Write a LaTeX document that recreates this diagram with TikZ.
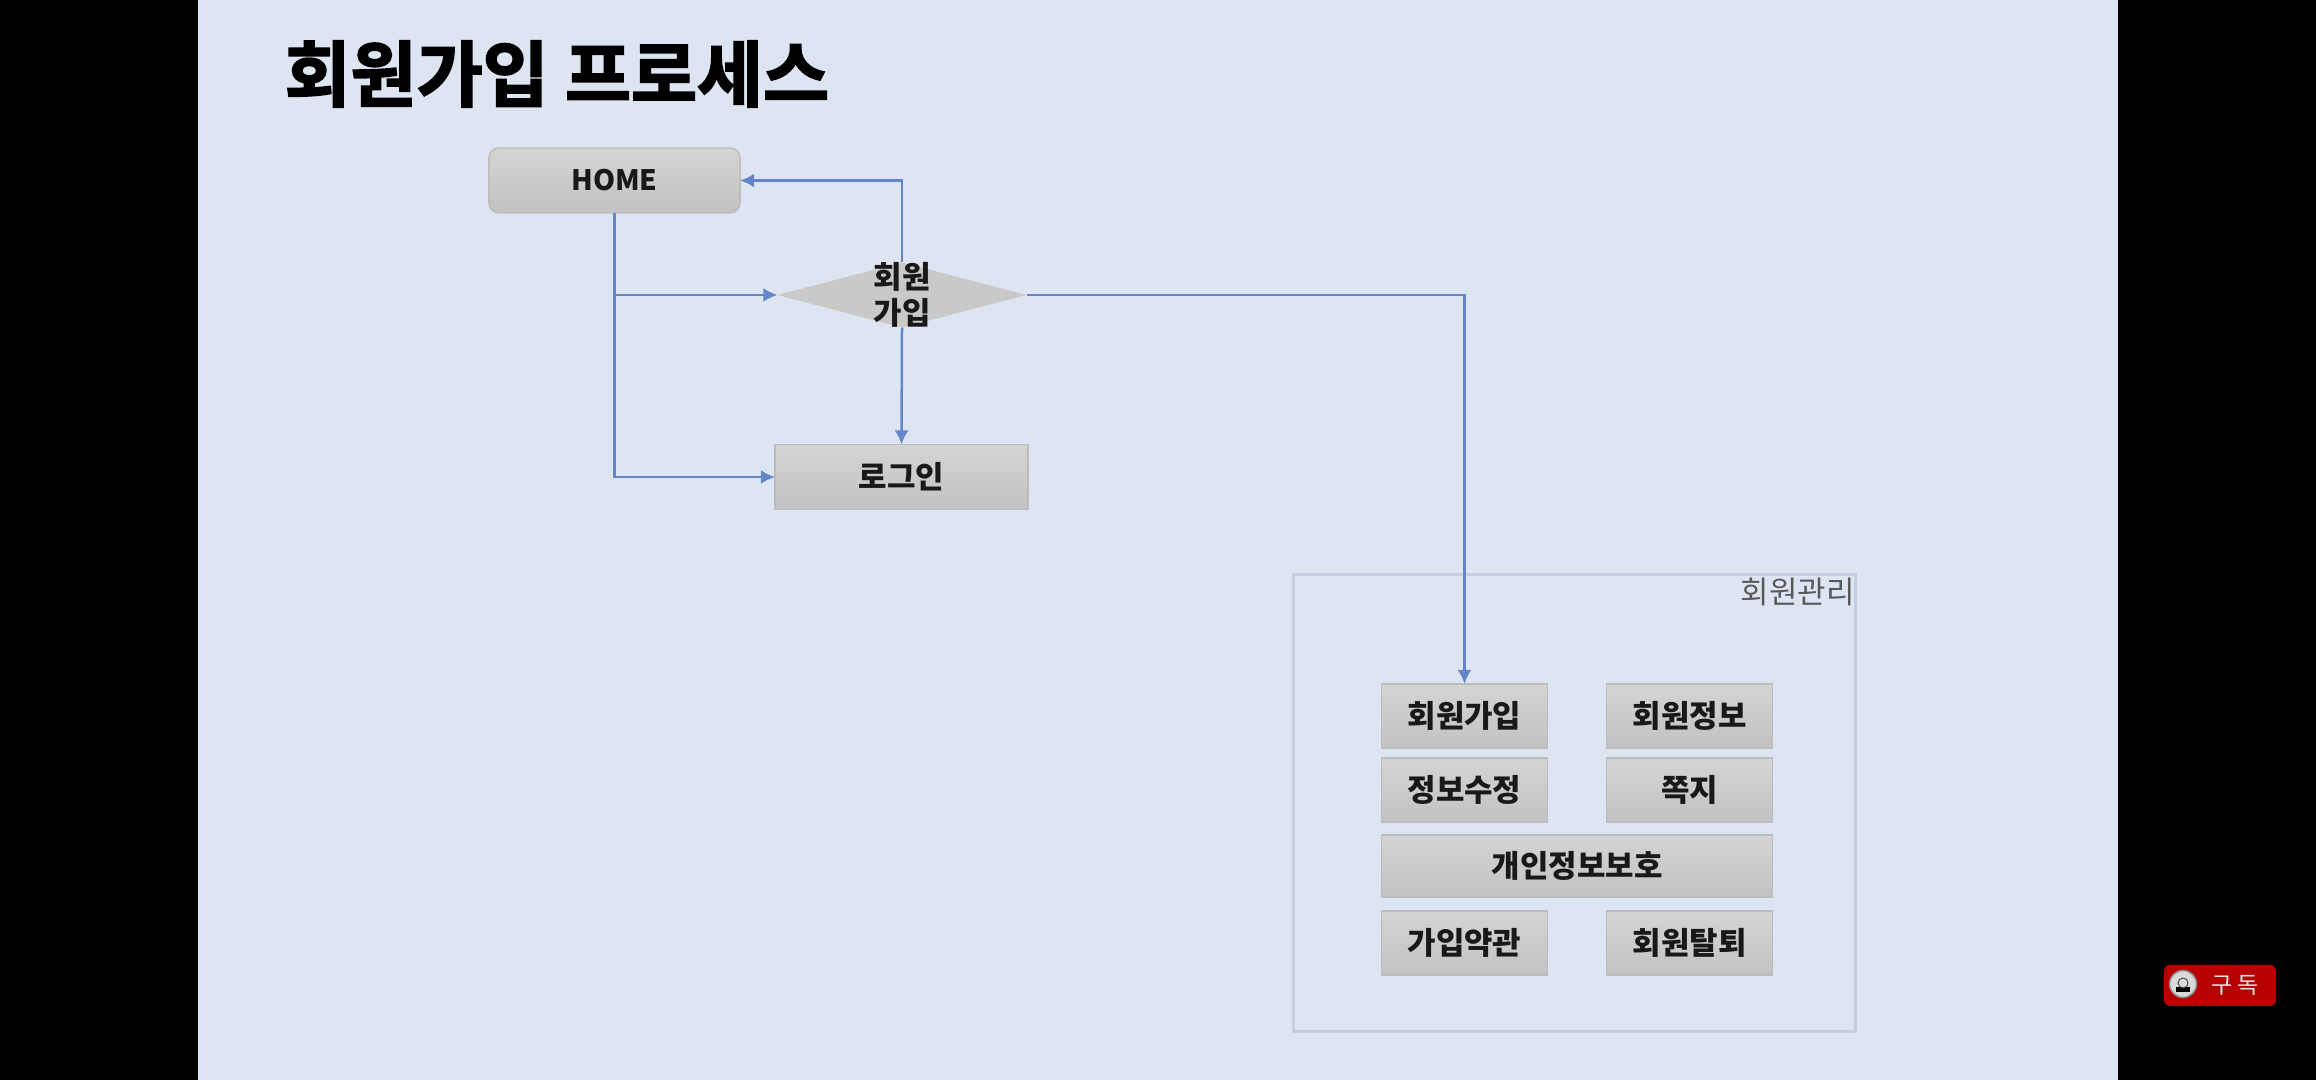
\documentclass[tikz,border=0pt]{standalone}
\usepackage{fontspec}
\setmainfont{Noto Sans CJK KR}
\newfontfamily\titlefont[FakeBold=2.5]{Noto Sans CJK KR Bold}
\usetikzlibrary{positioning,arrows.meta,shapes.geometric}
\definecolor{SlideBlue}{RGB}{222,229,242}
\definecolor{LineBlue}{RGB}{100,134,200}
\definecolor{BoxTop}{RGB}{212,212,210}
\definecolor{BoxBottom}{RGB}{194,194,194}
\definecolor{BoxEdge}{RGB}{186,188,190}
\definecolor{FrameEdge}{RGB}{196,206,224}
\definecolor{ButtonRed}{RGB}{184,0,0}

\begin{document}
\begin{tikzpicture}[
x=.01cm,y=-.01cm,
menu/.style={rectangle,draw=BoxEdge,top color=BoxTop,bottom color=BoxBottom,
minimum width=1.67cm,minimum height=.64cm,inner sep=0pt,outer sep=0pt,align=center,
font=\fontsize{8.8}{11}\selectfont\bfseries,text=black!90},
widemenu/.style={menu,minimum width=3.91cm},
flowbox/.style={menu,minimum width=2.53cm,minimum height=.65cm},
decision/.style={diamond,draw=none,fill=BoxTop!95!black,minimum width=2.49cm,minimum height=.65cm,
inner sep=0pt,outer sep=0pt},
arrow/.style={-{Latex[length=1.4mm,width=1.4mm]},draw=LineBlue,line width=.25mm}
]
\useasboundingbox (0,0) rectangle (2316,1080);
\fill[black] (0,0) rectangle (2316,1080);
\fill[SlideBlue] (198,0) rectangle (2118,1080);

\node[anchor=west,inner sep=0pt,text=black] (title) at (284,74) {\titlefont\fontsize{20.4}{26}\selectfont 회원가입 프로세스};

% flow
\node[flowbox,rounded corners=1mm,minimum width=2.51cm,font=\fontsize{8}{11}\selectfont\bfseries] (home) at (614.5,180.5) {HOME};
\node[decision] (signup) at (902,295) {};
\node[flowbox] (login) at (901.5,477) {로그인};
\draw[arrow] (home.south) |- (signup.west);
\draw[arrow] (home.south) |- (login.west);
\draw[arrow] (signup.north) |- (home.east);
\draw[arrow] (signup.south) -- (login.north);
\node[inner sep=0pt,align=center,font=\fontsize{8.8}{10.2}\selectfont\bfseries,text=black!90] (signuptext) at (signup) {회원\\가입};

% member area
\node[rectangle,draw=FrameEdge,line width=.3mm,minimum width=5.61cm,minimum height=4.56cm,outer sep=0pt] (member) at (1574.5,803) {};
\node[anchor=north east,inner sep=0pt,yshift=-.02cm,font=\fontsize{8.8}{11}\selectfont,text=black!65] (membertitle) at (member.north east) {회원관리};

\node[menu,minimum width=1.66cm] (join) at (1464.5,716) {회원가입};
\node[menu,minimum width=1.66cm,right=.59cm of join] (info) {회원정보};
\node[menu,minimum width=1.66cm,below=.10cm of join] (edit) {정보수정};
\node[menu,minimum width=1.66cm,below=.10cm of info] (note) {쪽지};
\node[widemenu,anchor=north west,minimum height=.62cm] (privacy) at ([yshift=-.13cm]edit.south west) {개인정보보호};
\node[menu,minimum width=1.66cm,anchor=north west] (terms) at ([yshift=-.14cm]privacy.south west) {가입약관};
\node[menu,minimum width=1.66cm,right=.59cm of terms] (leave) {회원탈퇴};
\draw[arrow] (signup.east) -| (join.north);

% subscribe button
\node[rectangle,rounded corners=.6mm,fill=ButtonRed,minimum width=1.12cm,minimum height=.41cm,inner sep=0pt] (button) at (2220,985.5) {};
\node[circle,draw=black!45,fill=black!15,minimum size=.27cm,inner sep=0pt,line width=.15mm] (avatar) at (2183,984) {};
\fill[black] ([xshift=-.07cm,yshift=-.03cm]avatar.center) rectangle ([xshift=.07cm,yshift=-.08cm]avatar.center);
\draw[black!70,line width=.1mm] ([yshift=.01cm]avatar.center) circle (.05cm);
\node[text=black!10!white,inner sep=0pt,font=\fontsize{6.5}{8}\selectfont] (buttontext) at (2235,985) {구\ 독};
\end{tikzpicture}
\end{document}
